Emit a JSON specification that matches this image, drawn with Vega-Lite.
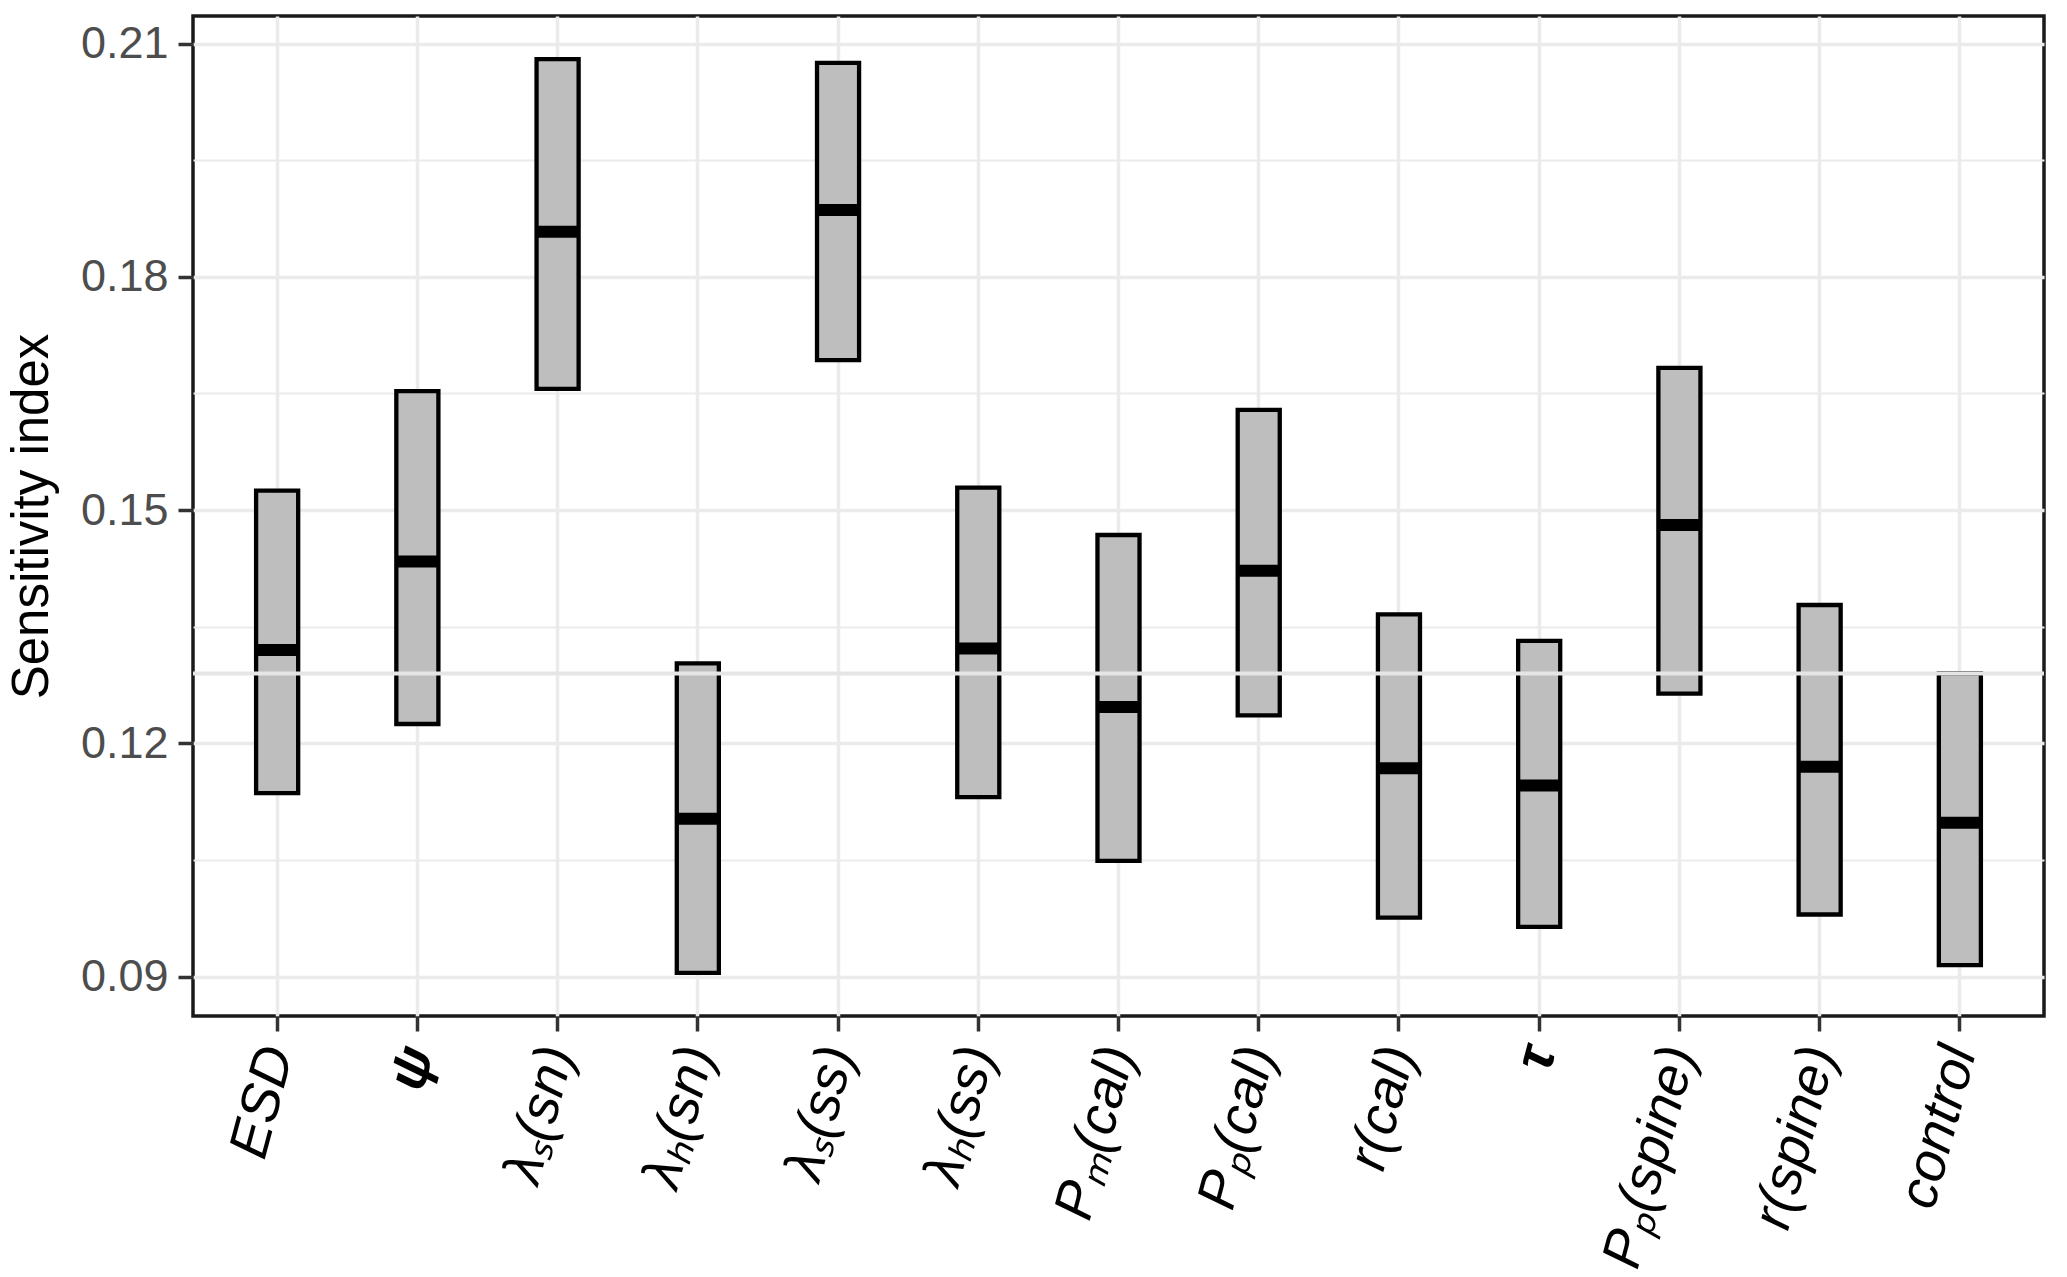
{
  "$schema": "https://vega.github.io/schema/vega-lite/v6.json",
  "width": 1851,
  "height": 1000,
  "autosize": {"type": "none"},
  "padding": {"left": 193, "top": 16, "right": 23, "bottom": 261},
  "background": "white",
  "config": {"view": {"stroke": "#1a1a1a", "strokeWidth": 3.5}},
  "datasets": {
    "boxes": [
      {"param": "ESD", "lower": 0.1136, "median": 0.1320, "upper": 0.1525},
      {"param": "ψ", "lower": 0.1225, "median": 0.1434, "upper": 0.1653},
      {"param": "λₛ(sn)", "lower": 0.1656, "median": 0.1858, "upper": 0.2080},
      {"param": "λₕ(sn)", "lower": 0.0905, "median": 0.1103, "upper": 0.1303},
      {"param": "λₛ(ss)", "lower": 0.1693, "median": 0.1886, "upper": 0.2075},
      {"param": "λₕ(ss)", "lower": 0.1131, "median": 0.1322, "upper": 0.1529},
      {"param": "Pₘ(cal)", "lower": 0.1049, "median": 0.1247, "upper": 0.1468},
      {"param": "Pₚ(cal)", "lower": 0.1236, "median": 0.1422, "upper": 0.1629},
      {"param": "r(cal)", "lower": 0.0976, "median": 0.1168, "upper": 0.1366},
      {"param": "τ", "lower": 0.0964, "median": 0.1146, "upper": 0.1332},
      {"param": "Pₚ(spine)", "lower": 0.1264, "median": 0.1481, "upper": 0.1683},
      {"param": "r(spine)", "lower": 0.0980, "median": 0.1170, "upper": 0.1378},
      {"param": "control", "lower": 0.0915, "median": 0.1098, "upper": 0.1290}
    ],
    "ref": [{"level": 0.129}]
  },
  "layer": [
    {
      "data": {"name": "boxes"},
      "mark": {"type": "bar", "fill": "#bebebe", "stroke": "#000000", "strokeWidth": 4.3},
      "encoding": {
        "x": {
          "field": "param",
          "type": "nominal",
          "sort": null,
          "scale": {"type": "band", "paddingInner": 0.7, "paddingOuter": 0.45},
          "axis": {
            "title": null,
            "domain": false,
            "grid": true,
            "gridColor": "#ebebeb",
            "gridWidth": 3.5,
            "bandPosition": 0.5,
            "ticks": true,
            "tickSize": 15,
            "tickColor": "#333333",
            "tickWidth": 3.5,
            "labelAngle": -75,
            "labelAlign": "right",
            "labelBaseline": "middle",
            "labelPadding": 16,
            "labelFont": "Liberation Sans",
            "labelFontStyle": "italic",
            "labelFontWeight": {"condition": {"test": "datum.value == 'ψ' || datum.value == 'τ'", "value": "bold"}, "value": "normal"},
            "labelFontSize": 55,
            "labelColor": "#000000",
            "labelLimit": 400,
            "labelOverlap": false
          }
        },
        "y": {
          "field": "lower",
          "type": "quantitative",
          "scale": {"domain": [0.08495, 0.21354], "nice": false, "zero": false},
          "axis": {
            "title": "Sensitivity index",
            "titleFont": "Liberation Sans",
            "titleFontSize": 51,
            "titleFontWeight": "normal",
            "titleColor": "#000000",
            "titlePadding": 22,
            "domain": false,
            "values": [0.09, 0.105, 0.12, 0.135, 0.15, 0.165, 0.18, 0.195, 0.21],
            "labelExpr": "(round(datum.value * 1000) % 30 == 0) ? format(datum.value, '.2f') : ''",
            "grid": true,
            "gridColor": "#ebebeb",
            "gridWidth": {"condition": {"test": "round(datum.value * 1000) % 30 == 0", "value": 3.5}, "value": 2},
            "tickSize": 15,
            "tickColor": "#333333",
            "tickWidth": 3.5,
            "tickOpacity": {"condition": {"test": "round(datum.value * 1000) % 30 == 0", "value": 1}, "value": 0},
            "labelFont": "Liberation Sans",
            "labelFontSize": 45,
            "labelColor": "#4d4d4d",
            "labelPadding": 10
          }
        },
        "y2": {"field": "upper"}
      }
    },
    {
      "data": {"name": "boxes"},
      "mark": {"type": "tick", "color": "#000000", "thickness": 12, "size": 42, "opacity": 1},
      "encoding": {
        "x": {"field": "param", "type": "nominal", "sort": null},
        "y": {"field": "median", "type": "quantitative"}
      }
    },
    {
      "data": {"name": "ref"},
      "mark": {"type": "rule", "color": "#e5e5e5", "strokeWidth": 4},
      "encoding": {
        "y": {"field": "level", "type": "quantitative"}
      }
    }
  ]
}
